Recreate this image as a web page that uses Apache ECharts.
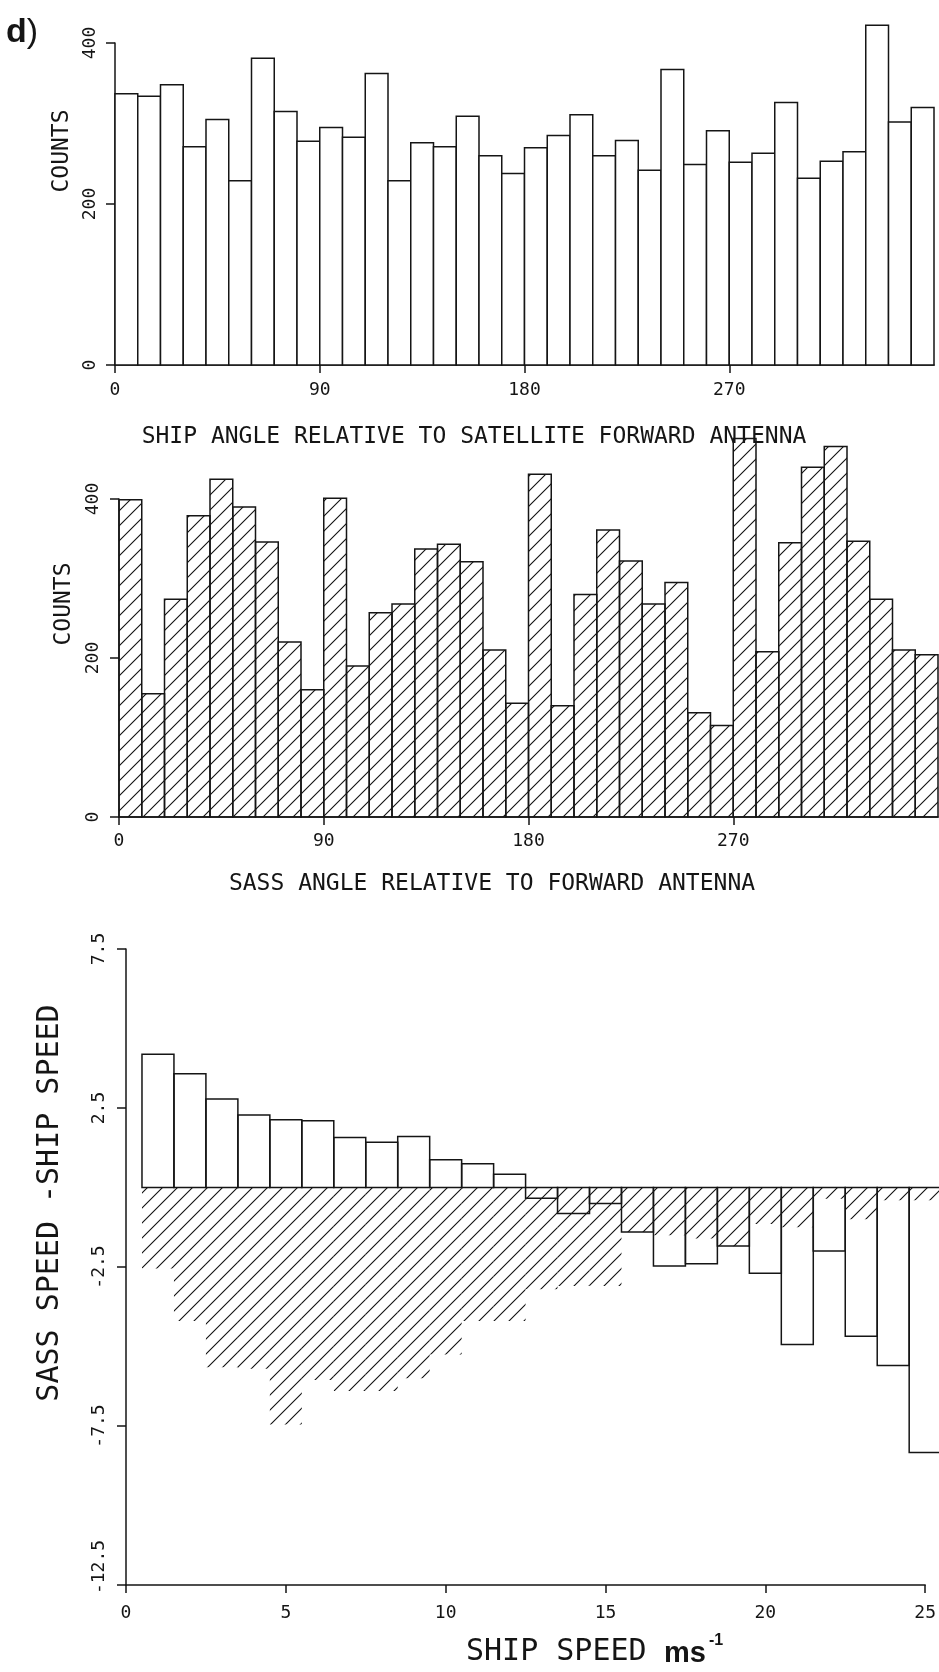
<!DOCTYPE html>
<html><head><meta charset="utf-8">
<script src="https://cdn.jsdelivr.net/npm/echarts@6/dist/echarts.min.js"></script>
<style>html,body{margin:0;padding:0;background:#fff}#c{width:939px;height:1672px}</style>
</head><body><div id="c"></div>
<script>
// ---------- data ----------
const angleBinStarts = [0,10,20,30,40,50,60,70,80,90,100,110,120,130,140,150,160,170,180,190,200,210,220,230,240,250,260,270,280,290,300,310,320,330,340,350];
const ANGLE_BIN_WIDTH = 10;
const shipAngleCounts = [337,334,348,271,305,229,381,315,278,295,283,362,229,276,271,309,260,238,270,285,311,260,279,242,367,249,291,252,263,326,232,253,265,422,302,320];
const sassAngleCounts = [399,155,274,379,425,390,346,220,160,401,190,257,268,337,343,321,210,143,431,140,280,361,322,268,295,131,115,476,208,345,440,466,347,274,210,204];
const angleTicks = [0,90,180,270];
const countTicks = [0,200,400];

const speedBinCentres = [1,2,3,4,5,6,7,8,9,10,11,12,13,14,15,16,17,18,19,20,21,22,23,24,25];
const SPEED_BIN_WIDTH = 1;
const speedDiffMean = [4.19,3.58,2.78,2.28,2.13,2.10,1.57,1.42,1.60,0.87,0.75,0.42,-0.34,-0.82,-0.50,-1.40,-2.47,-2.40,-1.84,-2.70,-4.94,-2.00,-4.68,-5.60,-8.33];
const speedDiffHatch = [-2.55,-4.2,-5.65,-5.7,-7.45,-6.05,-6.4,-6.4,-6.0,-5.25,-4.2,-4.2,-3.2,-3.1,-3.1,-1.4,-1.5,-1.6,-1.85,-1.15,-1.25,-0.35,-1.0,-0.4,-0.4];
const speedTicks = [0,5,10,15,20,25];
const diffTicks = [-12.5,-7.5,-2.5,2.5,7.5];

// ---------- styling ----------
const INK = '#151515';
const MONO = '"DejaVu Sans Mono", monospace';

function makeHatch(){
  const c = document.createElement('canvas');
  c.width = 15; c.height = 15;
  const g = c.getContext('2d');
  g.strokeStyle = '#111'; g.lineWidth = 1.1;
  g.beginPath();
  g.moveTo(-2,17); g.lineTo(17,-2);
  g.moveTo(-2,2); g.lineTo(2,-2);
  g.moveTo(13,17); g.lineTo(17,13);
  g.stroke();
  return c;
}
const hatch = {image: makeHatch(), repeat: 'repeat'};

function xAxisCfg(gi, min, max, ticks, margin){
  return {gridIndex: gi, type: 'value', min: min, max: max,
    axisLine: {show: true, onZero: false, lineStyle: {color: INK, width: 1.5}},
    axisTick: {show: true, customValues: ticks, length: 8, lineStyle: {color: INK, width: 1.5}},
    axisLabel: {customValues: ticks, color: INK, fontFamily: MONO, fontSize: 18, margin: margin},
    splitLine: {show: false}};
}
function yAxisCfg(gi, min, max, ticks, margin, lowShift){
  const label = {customValues: ticks, color: INK, fontFamily: MONO, fontSize: 18, rotate: 90, margin: margin};
  if (lowShift) {
    label.formatter = v => (v === min ? '{s|' + v + '}' : String(v));
    label.rich = {s: {fontFamily: MONO, fontSize: 18, color: INK, padding: [0, 0, 0, lowShift]}};
  }
  return {gridIndex: gi, type: 'value', min: min, max: max,
    axisLine: {show: true, onZero: false, lineStyle: {color: INK, width: 1.5}},
    axisTick: {show: true, customValues: ticks, length: 9, lineStyle: {color: INK, width: 1.5}},
    axisLabel: label,
    splitLine: {show: false}};
}

function rectRenderer(style){
  return function(params, api){
    const lo = api.coord([api.value(0), api.value(3)]);
    const hi = api.coord([api.value(1), api.value(2)]);
    return {type: 'rect',
      shape: {x: lo[0], y: Math.min(lo[1], hi[1]), width: hi[0] - lo[0], height: Math.abs(hi[1] - lo[1])},
      style: style};
  };
}

const topData = shipAngleCounts.map((v,i) => [angleBinStarts[i], angleBinStarts[i] + ANGLE_BIN_WIDTH, v, 0]);
const midData = sassAngleCounts.map((v,i) => [angleBinStarts[i], angleBinStarts[i] + ANGLE_BIN_WIDTH, v, 0]);
const meanData = speedDiffMean.map((v,i) => [speedBinCentres[i] - SPEED_BIN_WIDTH/2, speedBinCentres[i] + SPEED_BIN_WIDTH/2, v, 0]);
const hatchData = speedDiffHatch.map((v,i) => [speedBinCentres[i] - SPEED_BIN_WIDTH/2, speedBinCentres[i] + SPEED_BIN_WIDTH/2, v, 0]);

const chart = echarts.init(document.getElementById('c'), null, {renderer: 'canvas', width: 939, height: 1672});

function titleText(x, y, text, size, rot){
  return {type: 'text', x: x, y: y, rotation: rot || 0, z: 10,
    style: {text: text, fill: INK, font: size + 'px ' + MONO, align: 'center', verticalAlign: 'middle'}};
}

chart.setOption({
  animation: false,
  backgroundColor: '#fff',
  grid: [
    {left: 115, top: 43, width: 819, height: 322},
    {left: 119, top: 499, width: 819, height: 318},
    {left: 126, top: 949, width: 800, height: 636}
  ],
  xAxis: [
    xAxisCfg(0, 0, 360, angleTicks, 16),
    xAxisCfg(1, 0, 360, angleTicks, 15),
    xAxisCfg(2, 0, 25, speedTicks, 19)
  ],
  yAxis: [
    yAxisCfg(0, 0, 400, countTicks, 16),
    yAxisCfg(1, 0, 400, countTicks, 17),
    yAxisCfg(2, -12.5, 7.5, diffTicks, 18, 36)
  ],
  series: [
    {type: 'custom', xAxisIndex: 0, yAxisIndex: 0, data: topData, encode: {x: [0,1], y: [2,3]}, z: 3,
      renderItem: rectRenderer({fill: '#fff', stroke: INK, lineWidth: 1.5})},
    {type: 'custom', xAxisIndex: 1, yAxisIndex: 1, data: midData, encode: {x: [0,1], y: [2,3]}, z: 3,
      renderItem: rectRenderer({fill: hatch, stroke: INK, lineWidth: 1.5})},
    {type: 'custom', xAxisIndex: 2, yAxisIndex: 2, data: hatchData, encode: {x: [0,1], y: [2,3]}, z: 2,
      renderItem: rectRenderer({fill: hatch, stroke: null, lineWidth: 0})},
    {type: 'custom', xAxisIndex: 2, yAxisIndex: 2, data: meanData, encode: {x: [0,1], y: [2,3]}, z: 3,
      renderItem: rectRenderer({fill: 'none', stroke: INK, lineWidth: 1.5})}
  ],
  graphic: [
    {type: 'text', x: 6, y: 16, z: 10, style: {text: '{b|d}{n|)}', rich: {
      b: {fontFamily: '"Liberation Sans", Arial, sans-serif', fontWeight: 'bold', fontSize: 34, fill: INK},
      n: {fontFamily: '"Liberation Sans", Arial, sans-serif', fontSize: 34, fill: INK}}}},
    titleText(62, 151, 'COUNTS', 23, Math.PI/2),
    titleText(474, 437, 'SHIP ANGLE RELATIVE TO SATELLITE FORWARD ANTENNA', 23),
    titleText(64, 604, 'COUNTS', 23, Math.PI/2),
    titleText(492, 884, 'SASS ANGLE RELATIVE TO FORWARD ANTENNA', 23),
    titleText(50, 1203, 'SASS SPEED -SHIP SPEED', 30, Math.PI/2),
    {type: 'text', x: 466, y: 1652, z: 10, style: {text: 'SHIP SPEED', fill: INK, font: '30px ' + MONO, align: 'left', verticalAlign: 'middle'}},
    {type: 'text', x: 664, y: 1654, z: 10, style: {text: 'ms', fill: INK, font: 'bold 29px "Liberation Sans", Arial, sans-serif', align: 'left', verticalAlign: 'middle'}},
    {type: 'text', x: 709, y: 1641, z: 10, style: {text: '-1', fill: INK, font: 'bold 16px "Liberation Sans", Arial, sans-serif', align: 'left', verticalAlign: 'middle'}}
  ]
});
</script>
</body></html>
